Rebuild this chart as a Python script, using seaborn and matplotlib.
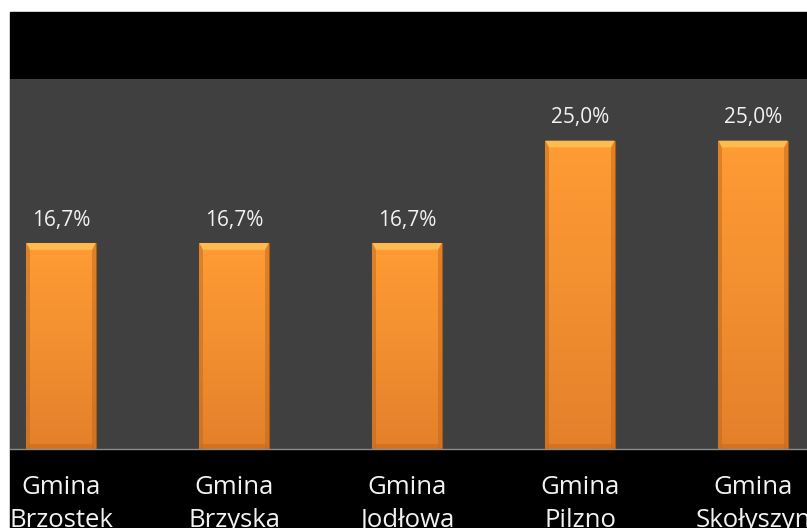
import matplotlib
matplotlib.use("Agg")
import matplotlib.pyplot as plt
import numpy as np
import pandas as pd
import seaborn as sns

# dane z wykresu
gminy = ["Gmina\nBrzostek", "Gmina\nBrzyska", "Gmina\nJodłowa", "Gmina\nPilzno", "Gmina\nSkołyszyn"]
udzial = [16.7, 16.7, 16.7, 25.0, 25.0]
etykiety = ["16,7%", "16,7%", "16,7%", "25,0%", "25,0%"]

df = pd.DataFrame({"gmina": gminy, "udzial": udzial})

sns.set_style("dark")
plt.rcParams["font.family"] = ["Open Sans", "DejaVu Sans"]

fig = plt.figure(figsize=(8.07, 5.28), dpi=100, facecolor="white")
# czarne tło pod wykresem
tlo = plt.Rectangle((10 / 807, 0), 797 / 807, 516 / 528,
                    transform=fig.transFigure, color="black", zorder=-10)
fig.add_artist(tlo)

ax = fig.add_axes([10 / 807, 79 / 528, 797 / 807, 370 / 528])
ax.set_facecolor("#404040")

sns.barplot(data=df, x="gmina", y="udzial", color="#F59331", width=0.4,
            saturation=1, edgecolor="#A85A14", linewidth=0.8, ax=ax)

# gradient + "fazowanie" słupków
grad = np.linspace(0, 1, 256).reshape(-1, 1)
cmap = matplotlib.colors.LinearSegmentedColormap.from_list("or", ["#E4802A", "#F28F30", "#FF9C34"])
for bar in ax.patches:
    x0, y0 = bar.get_x(), bar.get_y()
    w, h = bar.get_width(), bar.get_height()
    z = bar.get_zorder()
    im = ax.imshow(grad, extent=[x0, x0 + w, y0, y0 + h], origin="lower",
                   cmap=cmap, aspect="auto", zorder=z + 0.1)
    im.set_clip_path(bar)
    # ciemniejsze boki
    for xs in (x0, x0 + w * 0.95):
        ax.add_patch(plt.Rectangle((xs, y0), w * 0.05, h, color="#B8621A",
                                   alpha=0.45, lw=0, zorder=z + 0.2))
    # jasny pas u góry
    ax.add_patch(plt.Polygon([[x0, y0 + h], [x0 + w, y0 + h],
                              [x0 + w * 0.95, y0 + h - 0.55], [x0 + w * 0.05, y0 + h - 0.55]],
                             closed=True, color="#FFBA50", lw=0, zorder=z + 0.3))
    # ciemniejszy pas u dołu
    ax.add_patch(plt.Polygon([[x0, y0], [x0 + w, y0],
                              [x0 + w * 0.95, y0 + 0.4], [x0 + w * 0.05, y0 + 0.4]],
                             closed=True, color="#C86A1C", alpha=0.6, lw=0, zorder=z + 0.3))

for i, (v, t) in enumerate(zip(udzial, etykiety)):
    ax.text(i, v + 1.0, t, ha="center", va="bottom", color="#F2F2F2", fontsize=15)

ax.set_xlim(-0.295, 4.312)
ax.set_ylim(0, 30)
ax.set_yticks([])
ax.set_xlabel("")
ax.set_ylabel("")
ax.grid(False)
for s in ["top", "left", "right"]:
    ax.spines[s].set_visible(False)
ax.spines["bottom"].set_color("#8C8C8C")
ax.spines["bottom"].set_linewidth(1)
ax.tick_params(axis="x", length=0, pad=19, colors="#F2F2F2", labelsize=18.5)
for lab in ax.get_xticklabels():
    lab.set_linespacing(1.4)

fig.savefig("out.png", dpi=100, facecolor="white")
